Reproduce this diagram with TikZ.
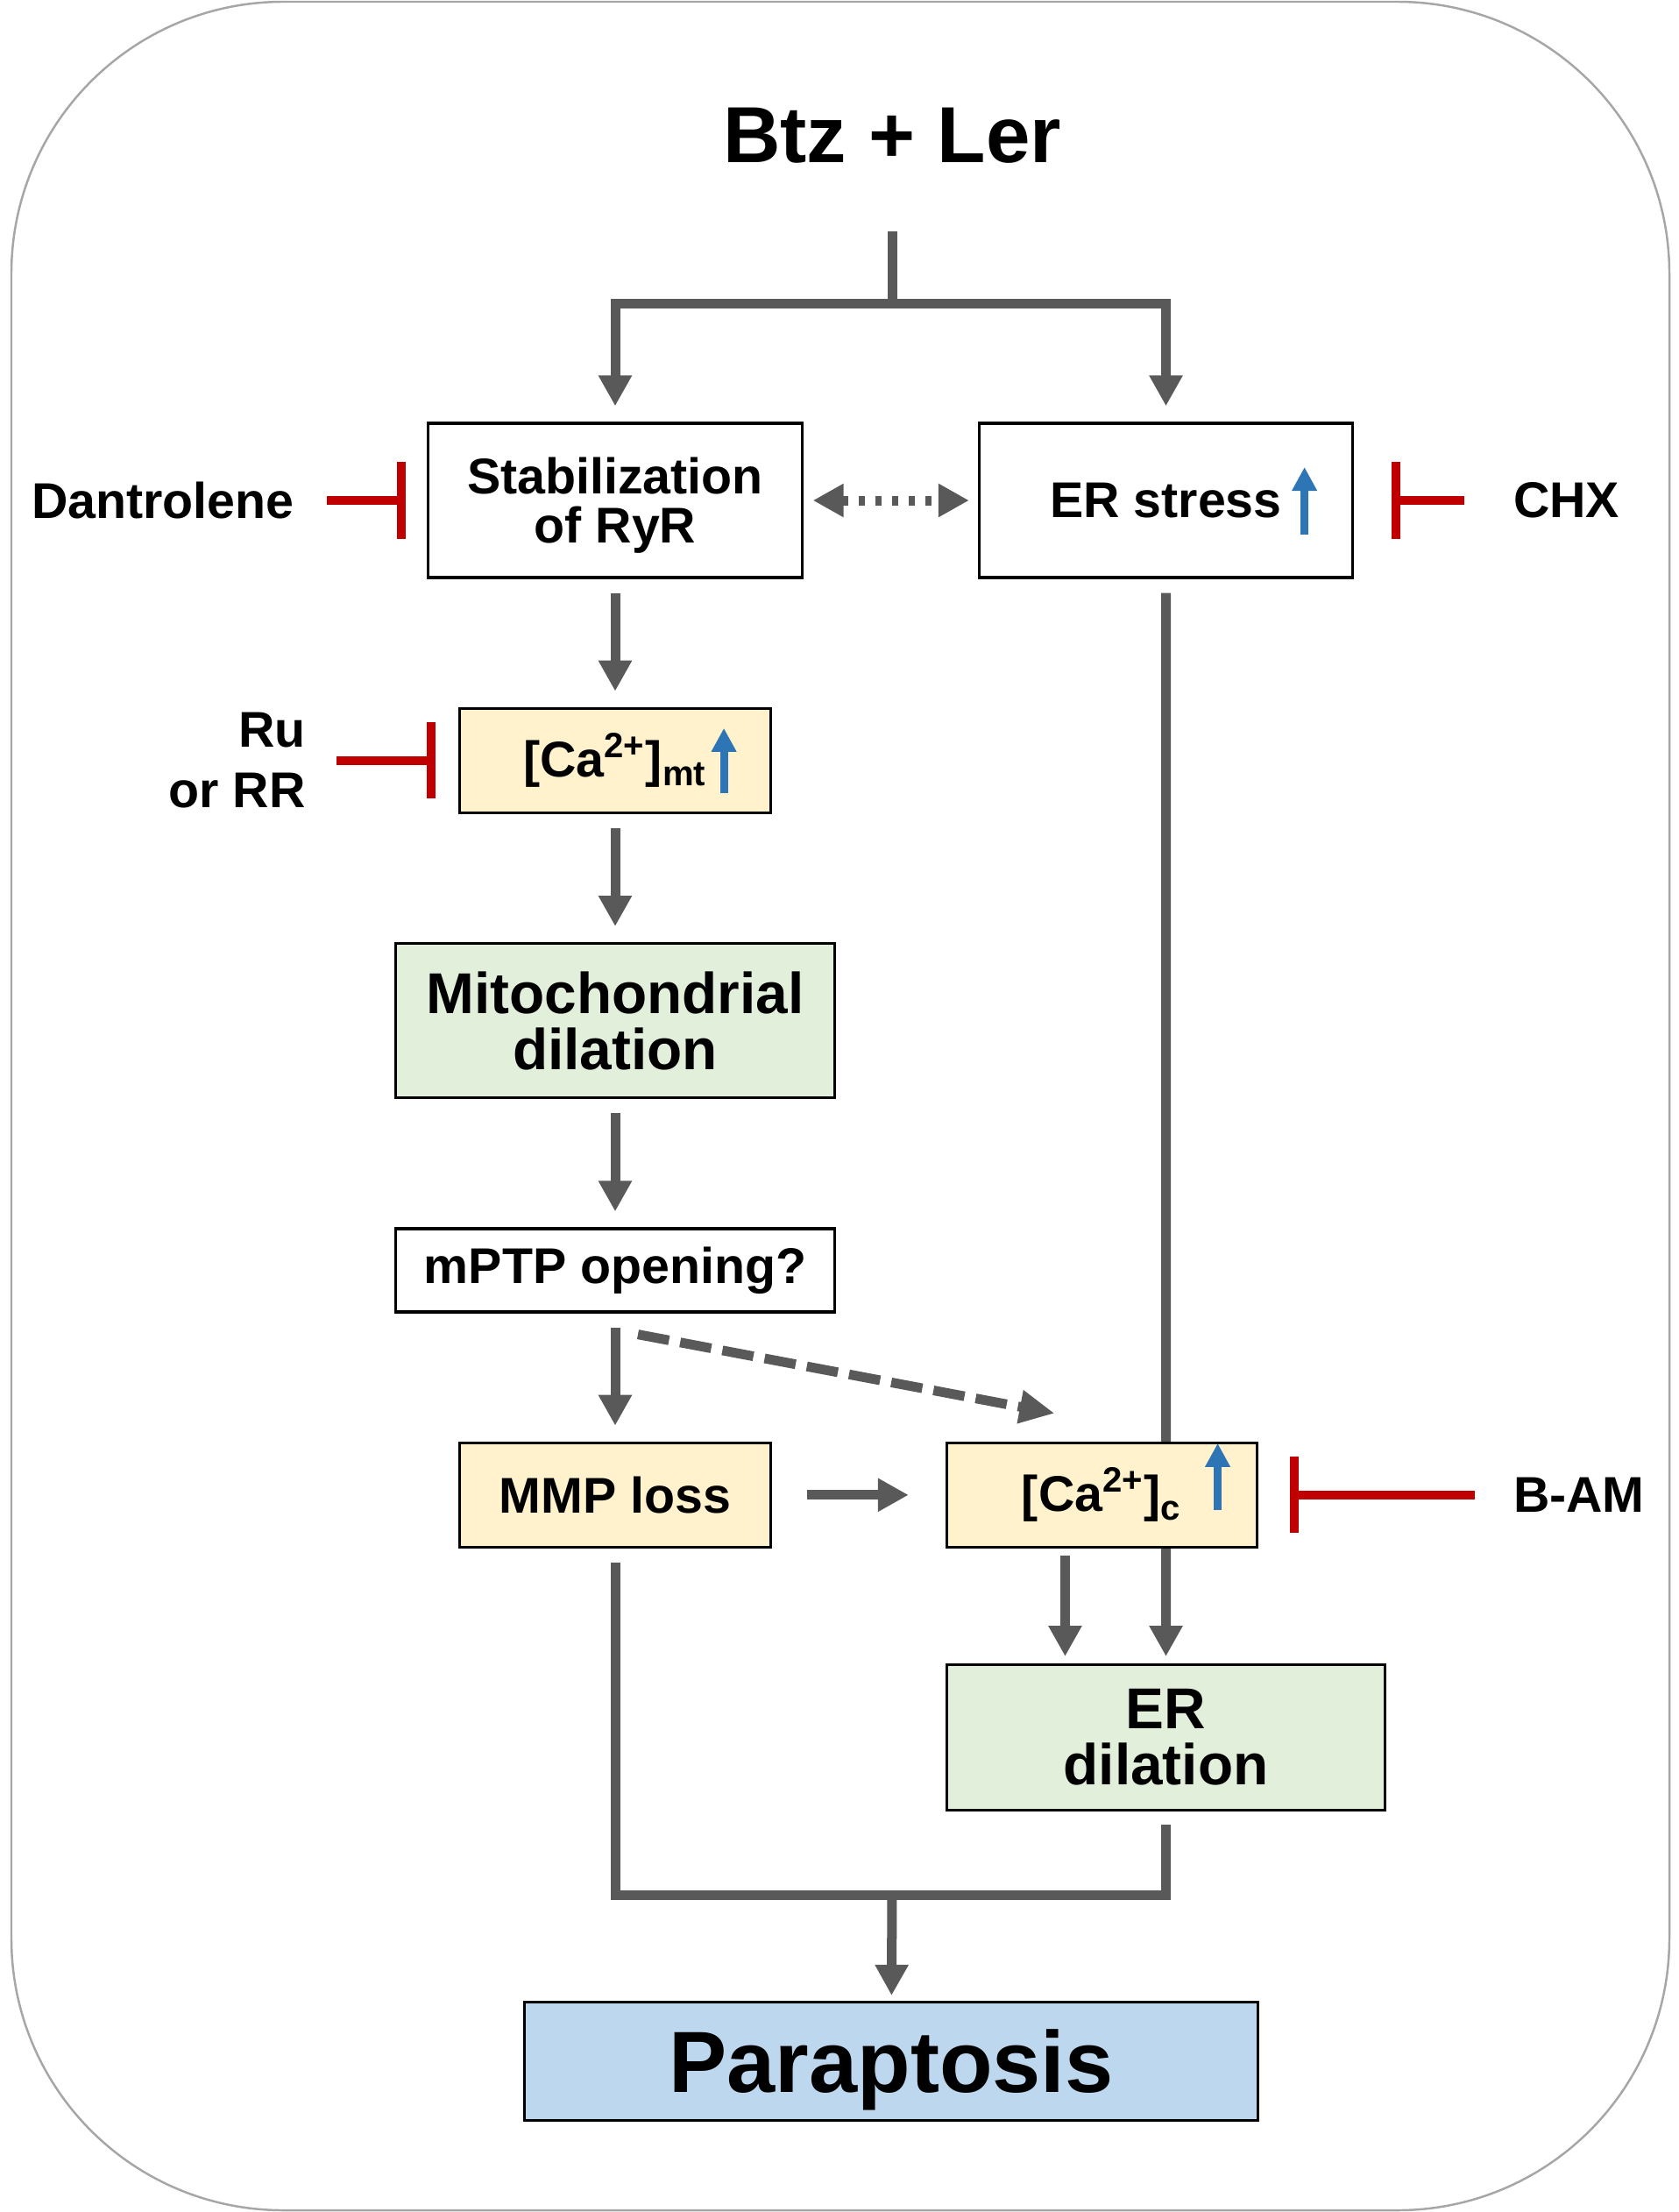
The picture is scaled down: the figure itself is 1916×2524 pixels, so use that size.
\documentclass[tikz,border=0pt]{standalone}
\usepackage{fontspec}
\setmainfont{Liberation Sans}
\usetikzlibrary{arrows.meta,positioning,backgrounds}
\definecolor{lnGray}{HTML}{595959}
\definecolor{inhRed}{HTML}{C00000}
\definecolor{upBlue}{HTML}{2E75B6}
\definecolor{ylwFill}{HTML}{FFF2CC}
\definecolor{grnFill}{HTML}{E2EFDA}
\definecolor{bluFill}{HTML}{BDD7EE}
\definecolor{frameGray}{HTML}{A6A6A6}

\begin{document}
\begin{tikzpicture}[
  x=0.01cm, y=-0.01cm,
  font=\bfseries\fontsize{16.3}{16}\selectfont,
  box/.style={draw, line width=0.9pt, align=center, inner sep=0pt},
  wbox/.style={box, minimum width=4.26cm, minimum height=1.76cm},
  ylw/.style={box, fill=ylwFill, minimum width=3.54cm, minimum height=1.19cm},
  grn/.style={box, fill=grnFill, minimum width=5cm, font=\bfseries\fontsize{18.7}{18.2}\selectfont},
  lbl/.style={inner sep=0pt, align=center},
  ln/.style={draw=lnGray, line width=0.11cm},
  ar/.style={ln, -{Triangle[length=0.35cm, width=0.36cm]}, shorten <=0.16cm, shorten >=0.18cm},
  inh/.style={draw=inhRed, line width=0.1cm, -{Bar[width=0.87cm]}},
  up/.style={draw=upBlue, line width=0.09cm, -{Triangle[length=0.27cm, width=0.27cm]}},
  frame/.style={draw=frameGray, line width=0.7pt, rounded corners=3.1cm}
]
\useasboundingbox (0,0) rectangle (1916,2524);
\draw[frame] (13,2) rectangle (1905,2522);

\node[lbl, font=\bfseries\fontsize{25.8}{30}\selectfont] (drug) at (1018,155) {Btz + Ler};
\node[wbox, text depth=0pt] (ryr) at (702,571) {Stabilization\\of RyR};
\node[wbox, right=1.99cm of ryr] (ers) {ER stress};
\node[ylw, below=1.46cm of ryr] (camt) {[Ca\textsuperscript{2+}]\textsubscript{mt}};
\node[grn, minimum height=1.76cm, below=1.46cm of camt] (mito) {Mitochondrial\\dilation};
\node[box, minimum width=5cm, minimum height=0.95cm, below=1.46cm of mito] (mptp) {mPTP opening?};
\node[ylw, below=1.46cm of mptp] (mmp) {MMP loss};
\node[ylw, right=1.98cm of mmp] (cac) {[Ca\textsuperscript{2+}]\textsubscript{c}};
\node[grn, minimum height=1.66cm, below=1.31cm of cac.south west, anchor=north west] (erdil) {ER\\dilation};
\node[box, fill=bluFill, minimum width=8.37cm, minimum height=1.35cm, text depth=0pt,
  font=\bfseries\fontsize{28.2}{32}\selectfont] (para) at (1017,2352) {Paraptosis};

\node[lbl, left=1.51cm of ryr] (dant) {Dantrolene};
\node[lbl, right=1.81cm of ers] (chx) {CHX};
\node[lbl, align=right, font=\bfseries\fontsize{16.3}{19.6}\selectfont, left=1.74cm of camt] (rurr) {Ru\\or RR};
\node[lbl, right=2.9cm of cac] (bam) {B-AM};

\coordinate (split) at (1018,346);
\coordinate (merge) at (1018,2162);

\draw[ln, shorten <=0.77cm] (drug) -- (split);
\draw[ar, shorten <=0pt] (split) -| (ryr.north);
\draw[ar, shorten <=0pt] (split) -| (ers.north);
\draw[draw=lnGray, line width=0.11cm, dash pattern=on 0.075cm off 0.115cm,
  {Triangle[length=0.35cm, width=0.36cm]}-{Triangle[length=0.35cm, width=0.36cm]},
  shorten <=0.11cm, shorten >=0.1cm] (ryr) -- (ers);
\draw[ar] (ryr) -- (camt);
\draw[ar] (camt) -- (mito);
\draw[ar] (mito) -- (mptp);
\draw[ar] (mptp) -- (mmp);
\draw[ar, shorten <=0.4cm, shorten >=0.42cm] (mmp) -- (cac);
\draw[ln, dash pattern=on 0.36cm off 0.13cm, -{Triangle[length=0.4cm, width=0.36cm]}]
  ([xshift=0.26cm, yshift=-0.24cm]mptp.south) -- ([xshift=-0.54cm, yshift=0.32cm]cac.north);
\begin{scope}[on background layer]
\draw[ar, shorten >=0.08cm] (ers) -- (erdil);
\end{scope}
\draw[ar, shorten <=0.08cm, shorten >=0.08cm] ([xshift=-0.42cm]cac.south) -- ([xshift=-0.42cm]cac.south |- erdil.north);
\draw[ln, shorten <=0.16cm, shorten >=0.15cm] (mmp.south) |- (merge) -| (erdil.south);
\draw[ar, shorten <=0pt, shorten >=0.06cm] (merge) -- (para);

\draw[inh, shorten <=0.37cm, shorten >=0.24cm] (dant) -- (ryr);
\draw[inh, shorten <=0.55cm, shorten >=0.43cm] (chx) -- (ers);
\draw[inh, shorten <=0.35cm, shorten >=0.26cm] (rurr) -- (camt);
\draw[inh, shorten <=0.43cm, shorten >=0.36cm] (bam) -- (cac);

\draw[up] ([xshift=1.58cm, yshift=-0.39cm]ers.center) -- ++(0pt,0.77cm);
\draw[up] ([xshift=1.24cm, yshift=-0.37cm]camt.center) -- ++(0pt,0.74cm);
\draw[up] ([xshift=1.32cm, yshift=-0.17cm]cac.center) -- ++(0pt,0.76cm);
\end{tikzpicture}
\end{document}
